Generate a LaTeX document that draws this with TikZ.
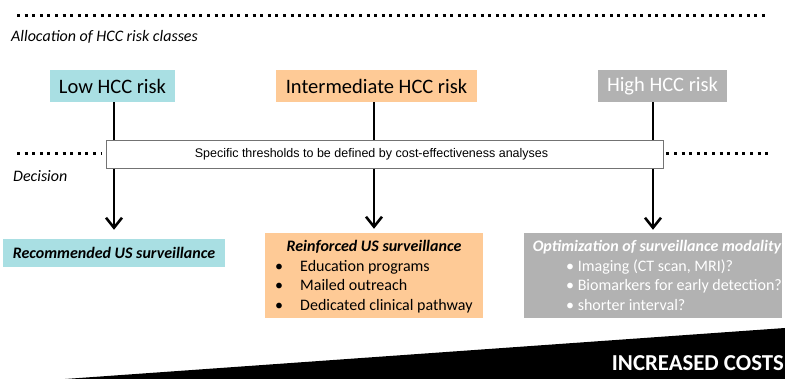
\documentclass[tikz,border=0pt]{standalone}
\usepackage{fontspec}
\setmainfont{Carlito}
\newfontfamily\arialfont{Liberation Sans}
\usetikzlibrary{arrows.meta}
\definecolor{lowcyan}{HTML}{A9DFE3}
\definecolor{midorange}{HTML}{FECA96}
\definecolor{highgray}{HTML}{B2B2B2}
\tikzset{
  riskbox/.style={inner sep=0pt, minimum height=32pt, font=\fontsize{20.5}{22}\selectfont},
  dotline/.style={line width=3pt, dash pattern=on 3pt off 4.6pt},
  riskline/.style={line width=2.6pt, -{Straight Barb[length=10pt,width=16pt]}},
  headline/.style={font=\fontsize{16}{18}\selectfont\bfseries\itshape, inner sep=0pt},
  bulletline/.style={font=\fontsize{16}{18}\selectfont, inner sep=0pt, anchor=base west},
  sidelabel/.style={font=\fontsize{16}{18}\selectfont\itshape, inner sep=0pt, anchor=west},
}
\begin{document}
\begin{tikzpicture}[x=1pt,y=-1pt]
\useasboundingbox (0,0) rectangle (785,379);
% separators
\draw[dotline] (17,16) -- (769,16);
\node[sidelabel] (alloc) at (11,37) {Allocation of HCC risk classes};
\node[sidelabel] (decide) at (13,176) {Decision};
% risk classes
\node[riskbox, fill=lowcyan, minimum width=125pt] (low) at (112.5,86) {Low HCC risk};
\node[riskbox, fill=midorange, minimum width=201pt] (mid) at (376.5,86) {Intermediate HCC risk};
\node[riskbox, fill=highgray, text=white, minimum width=129pt] (high) at (662.5,86) {High HCC risk};
% decisions
\node[headline, fill=lowcyan, minimum width=222pt, minimum height=28pt] (rec) at (114,253) {Recommended US surveillance};
\node[fill=midorange, minimum width=218pt, minimum height=85pt, inner sep=0pt] (reinf) at (374,275.5) {};
\node[fill=highgray, minimum width=258pt, minimum height=85pt, inner sep=0pt] (opt) at (653,275.5) {};
\node[headline] (reinftitle) at (374,247) {Reinforced US surveillance};
\node[bulletline] (edu) at (275,271.5) {\makebox[25pt][l]{\textbullet}Education programs};
\node[bulletline] (mail) at (275,291) {\makebox[25pt][l]{\textbullet}Mailed outreach};
\node[bulletline] (path) at (275,310.5) {\makebox[25pt][l]{\textbullet}Dedicated clinical pathway};
\node[headline, text=white] (opttitle) at (657,247) {Optimization of surveillance modality};
\node[bulletline, text=white] (img) at (566,271.5) {\textbullet\ Imaging (CT scan, MRI)?};
\node[bulletline, text=white] (bio) at (566,291) {\textbullet\ Biomarkers for early detection?};
\node[bulletline, text=white] (intv) at (566,310.5) {\textbullet\ shorter interval?};
% arrows
\draw[riskline, shorten >=9pt] (low.south -| rec.north) -- (rec.north);
\draw[riskline, shorten >=4pt] (mid.south -| reinf.north) -- (reinf.north);
\draw[riskline, shorten >=3pt] (high.south -| opt.north) -- (opt.north);
% thresholds
\node[draw=black!55, fill=white, line width=0.8pt, minimum width=557pt, minimum height=28pt, inner sep=0pt] (thr) at (384.5,154) {};
\node[font=\arialfont\fontsize{12.5}{14}\selectfont, inner sep=0pt] (thrtext) at (371.5,154) {Specific thresholds to be defined by cost-effectiveness analyses};
\draw[dotline] (17,154) -- ([xshift=-4pt]thr.west);
\draw[dotline] ([xshift=3pt]thr.east) -- (769,154);
% costs
\fill (65,379) -- (785,328) -- (785,379) -- cycle;
\node[font=\fontsize{22.8}{26}\selectfont\bfseries, text=white, anchor=east, inner sep=0pt] (cost) at (784,363) {INCREASED COSTS};
\end{tikzpicture}
\end{document}
